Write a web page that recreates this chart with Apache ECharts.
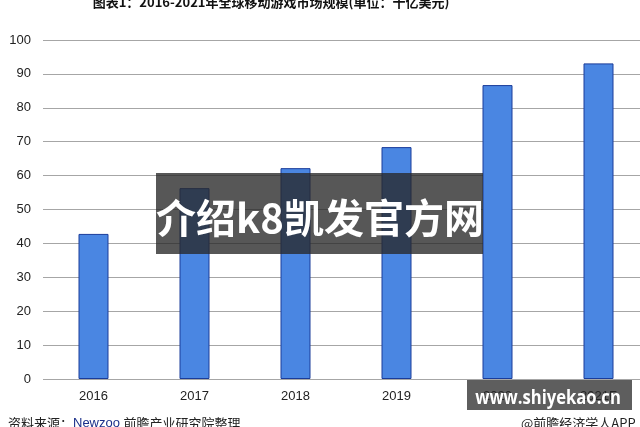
<!DOCTYPE html>
<html><head><meta charset="utf-8">
<script src="https://cdn.jsdelivr.net/npm/echarts@6/dist/echarts.min.js"></script>
<style>html,body{margin:0;padding:0;background:#fff;overflow:hidden;width:640px;height:427px;}#c{width:660px;height:427px;}</style>
</head><body><div id="c"></div>
<script>
const categories = ['2016', '2017', '2018', '2019', '2020', '2021F'];
const marketSize = [42.8, 56.3, 62.2, 68.4, 86.7, 93.1];
const yTicks = [0, 10, 20, 30, 40, 50, 60, 70, 80, 90, 100];
const titleText = '图表1：2016-2021年全球移动游戏市场规模(单位：十亿美元)';
const overlayText = '介绍k8凯发官方网';
const siteText = 'www.shiyekao.cn';

const chart = echarts.init(document.getElementById('c'), null, {renderer: 'canvas'});
const font = '"Liberation Sans", Arial, "Noto Sans CJK SC", sans-serif';
chart.setOption({
  animation: false,
  backgroundColor: '#ffffff',
  grid: {left: 43, top: 40, width: 606, height: 339, containLabel: false},
  xAxis: {
    type: 'category', data: categories,
    axisLine: {show: false}, axisTick: {show: false},
    axisLabel: {color: '#222', fontSize: 13, fontFamily: font, margin: 11}
  },
  yAxis: {
    type: 'value', min: yTicks[0], max: yTicks[yTicks.length - 1], interval: 10,
    axisLine: {show: false}, axisTick: {show: false},
    axisLabel: {color: '#222', fontSize: 13, fontFamily: font, margin: 12},
    splitLine: {lineStyle: {color: '#a6a6a6', width: 1}}
  },
  series: [{
    type: 'bar', data: marketSize, barWidth: 30,
    itemStyle: {color: '#4a86e2', borderColor: '#1a3c9a', borderWidth: 1}
  }],
  graphic: [
    {type: 'text', x: 271, y: 2, z: 10,
     style: {text: titleText, fill: '#111', font: 'bold 13px "Noto Sans CJK SC", sans-serif', align: 'center', verticalAlign: 'middle'}},
    {type: 'text', left: 8, top: 417, z: 10,
     style: {rich: {a: {fill: '#222', font: '13px "Noto Sans CJK SC", sans-serif'}, b: {fill: '#1a2f8a', font: '13px "Liberation Sans", sans-serif'}},
             text: '{a|资料来源：}{b|Newzoo }{a|前瞻产业研究院整理}'}},
    {type: 'text', left: 521, top: 417, z: 10,
     style: {text: '@前瞻经济学人APP', fill: '#222', font: '13px "Noto Sans CJK SC", sans-serif'}},
    {type: 'rect', shape: {x: 156, y: 173, width: 327, height: 81}, z: 20,
     style: {fill: 'rgba(40,40,40,0.78)'}},
    {type: 'text', x: 320, y: 218, z: 21,
     style: {text: overlayText, fill: '#fff', font: 'bold 40px "Noto Sans CJK SC", sans-serif', align: 'center', verticalAlign: 'middle'}},
    {type: 'rect', shape: {x: 467, y: 380, width: 165, height: 30}, z: 20,
     style: {fill: 'rgba(40,40,40,0.75)'}},
    {type: 'text', x: 548, y: 398, z: 21, scaleX: 0.83, originX: 0, originY: 0,
     style: {text: siteText, fill: '#fff', font: 'bold 20px "Open Sans", "DejaVu Sans", sans-serif', align: 'center', verticalAlign: 'middle'}}
  ]
});
</script></body></html>
